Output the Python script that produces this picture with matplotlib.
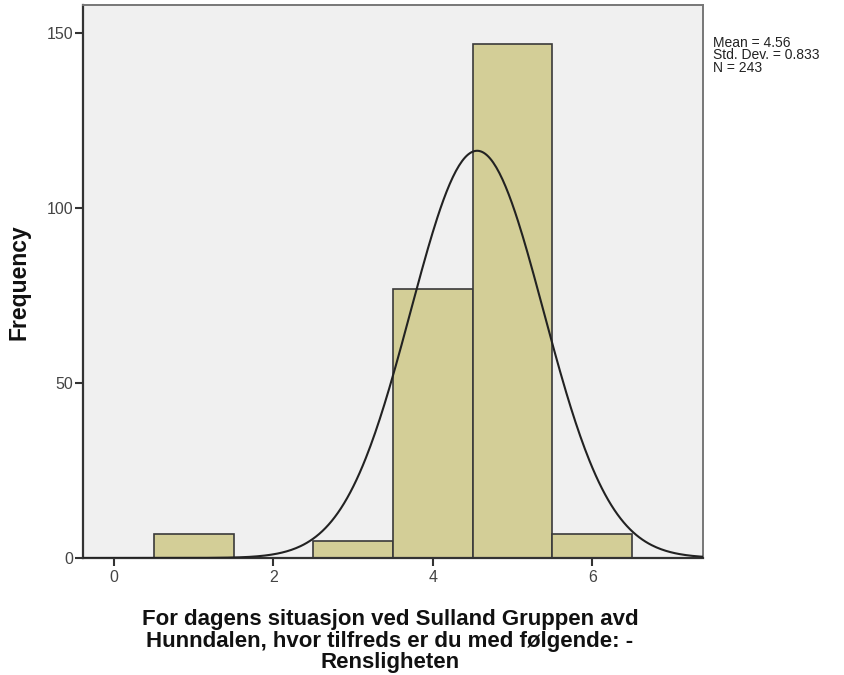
import numpy as np
import matplotlib.pyplot as plt

plt.rcParams["font.family"] = ["Liberation Sans", "DejaVu Sans"]

# answer values and counts
values = [1, 2, 3, 4, 5, 6]
counts = [7, 0, 5, 77, 147, 7]
stats_lines = ["Mean = 4.56", "Std. Dev. = 0.833", "N = 243"]
x_label_lines = ["For dagens situasjon ved Sulland Gruppen avd",
                 "Hunndalen, hvor tilfreds er du med følgende: -",
                 "Rensligheten"]
y_label = "Frequency"

fig = plt.figure(figsize=(8.45, 6.75), dpi=100)
ax = fig.add_axes([83 / 845, 1 - 558 / 675, 620 / 845, 553 / 675])
ax.set_facecolor("#f0f0f0")

ax.bar(values, counts, width=1.0, color="#d3ce97", edgecolor="#3a3a3a",
       linewidth=1.2, zorder=2)

# normal curve scaled to counts
n = sum(counts)
mean = np.dot(values, counts) / n
sd = np.sqrt(np.dot((np.array(values) - mean) ** 2, counts) / (n - 1))
xs = np.linspace(-0.39, 7.39, 400)
ys = n * 1.0 / (sd * np.sqrt(2 * np.pi)) * np.exp(-0.5 * ((xs - mean) / sd) ** 2)
ax.plot(xs, ys, color="#222222", linewidth=1.5, zorder=3)

ax.set_xlim(-0.39, 7.39)
ax.set_ylim(0, 158)
ax.set_xticks([0, 2, 4, 6])
ax.set_yticks([0, 50, 100, 150])
ax.tick_params(axis="both", direction="out", length=6, width=1.5,
               color="#333333", labelcolor="#444444", labelsize=11.5)
ax.tick_params(axis="x", pad=3)
ax.tick_params(axis="y", pad=1)

for s in ["left", "bottom"]:
    ax.spines[s].set_color("#333333")
    ax.spines[s].set_linewidth(1.6)
for s in ["top", "right"]:
    ax.spines[s].set_color("#777777")
    ax.spines[s].set_linewidth(1.4)

# x label, one line at a time (baselines)
for i, line in enumerate(x_label_lines):
    fig.text(390 / 845, 1 - (625 + 21.5 * i) / 675, line, fontsize=16,
             fontweight="bold", ha="center", va="baseline", color="#111111")

fig.text(19 / 845, 1 - 282 / 675, y_label, fontsize=16.5, fontweight="bold",
         rotation=90, ha="center", va="center", color="#111111")

fig.text(713 / 845, 1 - 36 / 675, "\n".join(stats_lines), fontsize=10,
         color="#222222", va="top", ha="left", linespacing=0.85)

fig.savefig("out.png", dpi=100, facecolor="white")
